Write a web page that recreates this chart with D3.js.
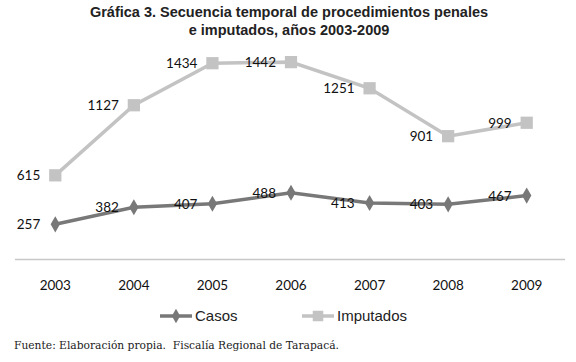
<!DOCTYPE html>
<html><head><meta charset="utf-8">
<script src="https://cdn.jsdelivr.net/npm/d3@7"></script>
<style>body{margin:0;background:#fff}</style>
</head><body><svg id="c" width="576" height="362"></svg>
<script>
const years = ["2003","2004","2005","2006","2007","2008","2009"];
const casos = [257,382,407,488,413,403,467];
const imputados = [615,1127,1434,1442,1251,901,999];
const seriesNames = ["Casos","Imputados"];
const titleLines = ["Gráfica 3. Secuencia temporal de procedimientos penales","e imputados, años 2003-2009"];
const source = "Fuente: Elaboración propia.\u00a0 Fiscalía Regional de Tarapacá.";

const svg = d3.select("#c");
const x = d3.scaleBand().domain(years).range([16,566]);
const y = d3.scaleLinear().domain([0,1600]).range([259.5,40.5]);
const cx = d => x(d)+x.bandwidth()/2;

svg.append("g").selectAll("text").data(titleLines).join("text")
  .attr("x",289).attr("y",(d,i)=>17+i*18).attr("text-anchor","middle")
  .attr("font-family","Liberation Sans, Arial").attr("font-weight","bold").attr("font-size",14.5)
  .attr("fill","#222").text(d=>d);

svg.append("line").attr("x1",15).attr("x2",565).attr("y1",y(0)).attr("y2",y(0))
  .attr("stroke","#c8c8c8").attr("stroke-width",1.5);

const xa = svg.append("g").attr("transform",`translate(0,${y(0)})`)
  .call(d3.axisBottom(x).tickSize(0).tickPadding(21));
xa.select(".domain").remove();
xa.selectAll("text").attr("font-family","Lato, Carlito, sans-serif").attr("font-size",13.5).attr("fill","#111");

const series = [
  {name:seriesNames[0], vals:casos, color:"#787878", shape:"diamond"},
  {name:seriesNames[1], vals:imputados, color:"#c3c3c3", shape:"square"}
];
const line = d3.line().x((d,i)=>cx(years[i])).y(d=>y(d));
series.forEach(s=>{
  svg.append("path").datum(s.vals).attr("d",line).attr("fill","none")
    .attr("stroke",s.color).attr("stroke-width",3.5);
  const sym = s.shape==="diamond" ? d3.symbol(d3.symbolDiamond,75) : d3.symbol(d3.symbolSquare,150);
  svg.append("g").selectAll("path").data(s.vals).join("path")
    .attr("d",sym).attr("fill",s.color)
    .attr("transform",(d,i)=>`translate(${cx(years[i])},${y(d)})`);
  svg.append("g").selectAll("text").data(s.vals).join("text")
    .attr("x",(d,i)=>cx(years[i])-15).attr("y",d=>y(d)+5)
    .attr("text-anchor","end").attr("font-family","Lato, Carlito, sans-serif")
    .attr("font-size",13.5).attr("fill","#111").text(d=>d);
});

const leg = [{x:160, s:series[0]},{x:302, s:series[1]}];
leg.forEach(l=>{
  const ly=316;
  svg.append("line").attr("x1",l.x).attr("x2",l.x+32).attr("y1",ly).attr("y2",ly)
    .attr("stroke",l.s.color).attr("stroke-width",3.5);
  const sym = l.s.shape==="diamond" ? d3.symbol(d3.symbolDiamond,60) : d3.symbol(d3.symbolSquare,110);
  svg.append("path").attr("d",sym).attr("fill",l.s.color).attr("transform",`translate(${l.x+16},${ly})`);
  svg.append("text").attr("x",l.x+35).attr("y",ly+5).attr("font-family","Liberation Sans, Arial")
    .attr("font-size",15).attr("fill","#222").text(l.s.name);
});

svg.append("text").attr("x",14).attr("y",349).attr("font-family","DejaVu Serif, serif")
  .attr("font-size",10.7).attr("fill","#222").text(source);
</script></body></html>
